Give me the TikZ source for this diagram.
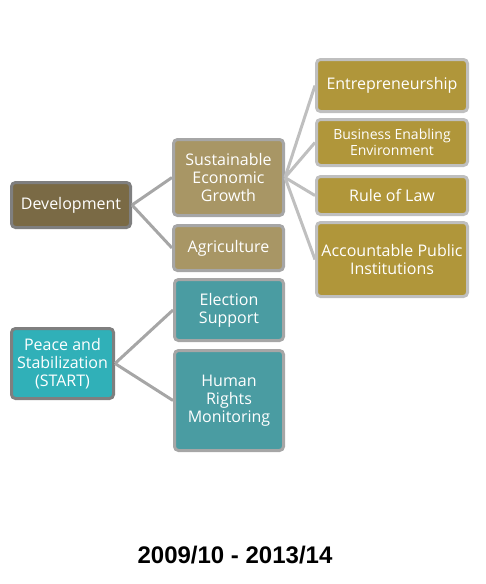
\documentclass[tikz,border=0pt]{standalone}
\usepackage{fontspec}
\setmainfont{Open Sans}
\newfontfamily\yearfont{Liberation Sans}
\usetikzlibrary{positioning}

\definecolor{devfill}{HTML}{7A6A45}
\definecolor{growfill}{HTML}{A89665}
\definecolor{leaffill}{HTML}{B0963A}
\definecolor{peacefill}{HTML}{30B0B8}
\definecolor{startfill}{HTML}{4A9CA2}
\definecolor{rootline}{HTML}{7F7F7F}
\definecolor{kidline}{HTML}{A6A6A6}
\definecolor{leafline}{HTML}{BFBFBF}

\begin{document}
\begin{tikzpicture}[
  x=1pt,y=-1pt,
  box/.style={rectangle,rounded corners=4pt,line width=3pt,text=white,
    align=center,inner sep=1pt,font=\fontsize{16}{18}\selectfont},
  root/.style={box,draw=rootline},
  kid/.style={box,draw=kidline},
  leaf/.style={box,draw=leafline,fill=leaffill,minimum width=151pt},
  link/.style={draw=kidline,line width=3pt},
  leaflink/.style={draw=leafline,line width=3pt}
]
  \useasboundingbox (0,0) rectangle (485,584);

  \node[root,fill=devfill,minimum width=119pt,minimum height=45pt] (dev) at (71,205) {Development};
  \node[kid,fill=growfill,minimum width=110pt,minimum height=76pt] (grow) at (228.5,177.5) {Sustainable\\Economic\\Growth};
  \node[kid,fill=growfill,minimum width=110pt,minimum height=45pt] (agri) at (228.5,248) {Agriculture};

  \node[leaf,minimum height=52pt] (entre) at (392,85.5) {Entrepreneurship};
  \node[leaf,minimum height=46pt,font=\fontsize{14}{16}\selectfont] (biz) at (392,142.5) {Business Enabling\\Environment};
  \node[leaf,minimum height=38pt] (law) at (392,195.5) {Rule of Law};
  \node[leaf,minimum height=74pt] (pub) at (392,259.5) {Accountable Public\\Institutions};

  \node[root,fill=peacefill,minimum width=102pt,minimum height=70pt] (peace) at (62.5,363.5) {Peace and\\Stabilization\\(START)};
  \node[kid,fill=startfill,minimum width=109pt,minimum height=61pt] (elect) at (229,310) {Election\\Support};
  \node[kid,fill=startfill,minimum width=109pt,minimum height=100pt] (rights) at (229,400.5) {Human\\Rights\\Monitoring};

  \node[font=\yearfont\bfseries\fontsize{24}{28}\selectfont] (year) at (235,555) {2009/10 - 2013/14};

  \path[link] (dev.east) -- (grow.west);
  \path[link] (dev.east) -- (agri.west);
  \path[leaflink] (grow.east) -- (entre.west);
  \path[leaflink] (grow.east) -- (biz.west);
  \path[leaflink] (grow.east) -- (law.west);
  \path[leaflink] (grow.east) -- (pub.west);
  \path[link] (peace.east) -- (elect.west);
  \path[link] (peace.east) -- (rights.west);
\end{tikzpicture}
\end{document}
